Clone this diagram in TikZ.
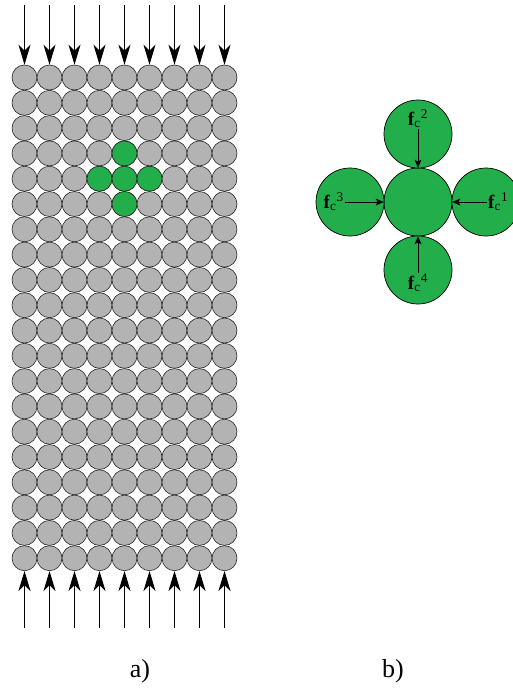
\documentclass[tikz,border=0pt]{standalone}
\usepackage{fontspec}
\setmainfont{Liberation Serif}
\usetikzlibrary{arrows.meta}

\definecolor{graingray}{RGB}{179,179,179}
\definecolor{graingreen}{RGB}{34,175,75}

\begin{document}
\begin{tikzpicture}[
		x=1pt, y=-1pt,
		grain/.style={circle, draw=black!85, line width=0.6pt, fill=graingray, minimum size=25pt, inner sep=0pt},
		probe/.style={grain, fill=graingreen},
		bigball/.style={circle, draw=black, line width=0.7pt, fill=graingreen, minimum size=68pt, inner sep=0pt},
		load/.style={line width=0.8pt, -{Stealth[length=20pt, width=12pt, inset=6pt]}},
		force/.style={line width=0.8pt, -{Stealth[length=8pt, width=7pt, inset=2pt]}},
		flabel/.style={inner sep=1pt, font=\fontsize{19}{22}\selectfont},
		caption/.style={font=\fontsize{26}{30}\selectfont}
		]
	
	\useasboundingbox (0, 0) rectangle (513, 689);
	
	% Grain packing
	\foreach \r in {1,...,20}{
		\foreach \c in {1,...,9}{
			\node[grain] (g-\r-\c) at ({24.5+25*(\c-1)}, {77.5+25.3*(\r-1)}) {};
		}
	}
	
	% Green grains
	\foreach \r/\c in {4/5, 5/4, 5/5, 5/6, 6/5}{
		\node[probe] (s-\r-\c) at (g-\r-\c) {};
	}
	
	% Loads top and bottom
	\foreach \c in {1,...,9}{
		\coordinate (t\c) at ({24.5+25*(\c-1)}, 5);
		\coordinate (b\c) at ({24.5+25*(\c-1)}, 628);
		\draw[load] (t\c) -- (g-1-\c.north);
		\draw[load] (b\c) -- (g-20-\c.south);
	}
	
	% Contact forces
	\node[bigball] (p0) at (418, 202) {};
	\node[bigball] (p1) at (486, 202) {};
	\node[bigball] (p2) at (418, 134) {};
	\node[bigball] (p3) at (350, 202) {};
	\node[bigball] (p4) at (418, 270) {};
	
	\node[flabel, anchor=west] (l1) at (487, 202) {\textbf{f}\textsubscript{c}\textsuperscript{1}};
	\node[flabel] (l2) at (418, 119) {\textbf{f}\textsubscript{c}\textsuperscript{2}};
	\node[flabel, anchor=east] (l3) at (345, 202) {\textbf{f}\textsubscript{c}\textsuperscript{3}};
	\node[flabel] (l4) at (418, 283) {\textbf{f}\textsubscript{c}\textsuperscript{4}};
	
	\draw[force] (l1.west) -- (p0.east);
	\draw[force] (l2.south) -- (p0.north);
	\draw[force] (l3.east) -- (p0.west);
	\draw[force] (l4.north) -- (p0.south);
	
	% Captions
	\node[caption] (la) at (140, 671) {a)};
	\node[caption] (lb) at (393, 671) {b)};
	
\end{tikzpicture}
\end{document}
